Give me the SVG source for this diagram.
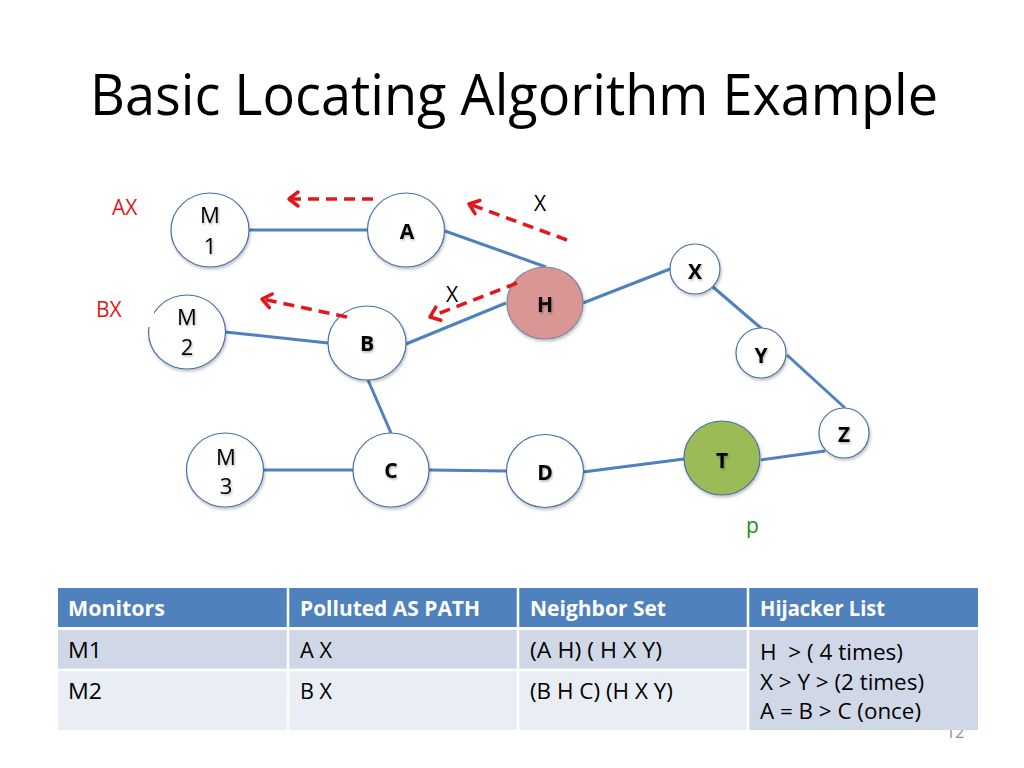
<svg xmlns="http://www.w3.org/2000/svg" width="1024" height="768" viewBox="0 0 1024 768">
<defs>
<style>
.t{font-family:"Open Sans","Liberation Sans",sans-serif;}
.node{fill:#ffffff;stroke:#4a6fa5;stroke-width:1.2;}
.lbl{font-family:"Open Sans","Liberation Sans",sans-serif;font-weight:bold;font-size:21px;fill:#000;text-anchor:middle;}
.mlbl{font-family:"Open Sans","Liberation Sans",sans-serif;font-size:22px;fill:#000;text-anchor:middle;}
.edge{stroke:#4f81bd;stroke-width:3;fill:none;}
.red{stroke:#e3171b;stroke-width:3.5;fill:none;stroke-dasharray:11 7;}
.redtxt{font-family:"Open Sans","Liberation Sans",sans-serif;font-size:21px;fill:#e3171b;}
.blk{font-family:"Open Sans","Liberation Sans",sans-serif;font-size:21px;fill:#000;}
.th{font-family:"Open Sans","Liberation Sans",sans-serif;font-size:21px;font-weight:bold;fill:#fff;}
.td{font-family:"Open Sans","Liberation Sans",sans-serif;font-size:21px;fill:#000;}
</style>
<marker id="ah" markerWidth="20" markerHeight="20" refX="0" refY="0" viewBox="-12 -10 14 20" markerUnits="userSpaceOnUse" orient="auto">
<path d="M-9,-7 L0,0 L-9,7" fill="none" stroke="#e3171b" stroke-width="3.5" stroke-linecap="round" stroke-linejoin="round"/>
</marker>
<filter id="sh" x="-20%" y="-20%" width="140%" height="140%">
<feDropShadow dx="1" dy="2" stdDeviation="1.5" flood-color="#000" flood-opacity="0.25"/>
</filter>
<filter id="ts" x="-20%" y="-20%" width="140%" height="140%">
<feDropShadow dx="1" dy="1.5" stdDeviation="0.8" flood-color="#000" flood-opacity="0.3"/>
</filter>
</defs>
<rect width="1024" height="768" fill="#ffffff"/>

<text class="t" x="90" y="115" font-size="56" fill="#000" textLength="848" lengthAdjust="spacingAndGlyphs">Basic Locating Algorithm Example</text>

<g id="connectors">
<line class="edge" x1="249" y1="230" x2="368" y2="230"/>
<line class="edge" x1="445" y1="231" x2="546" y2="267"/>
<line class="edge" x1="583" y1="303" x2="670" y2="269"/>
<line class="edge" x1="713" y1="287" x2="762" y2="329"/>
<line class="edge" x1="787" y1="355" x2="845" y2="408"/>
<line class="edge" x1="825" y1="451" x2="761" y2="460"/>
<line class="edge" x1="684" y1="459" x2="583" y2="472"/>
<line class="edge" x1="506" y1="471" x2="429" y2="470"/>
<line class="edge" x1="353" y1="470" x2="263" y2="470"/>
<line class="edge" x1="368" y1="380" x2="391" y2="433"/>
<line class="edge" x1="225" y1="332" x2="328" y2="343"/>
<line class="edge" x1="406" y1="344" x2="506" y2="303"/>
</g>

<g id="node-M1"><ellipse class="node" filter="url(#sh)" cx="210" cy="230" rx="39" ry="37"/><text class="mlbl" filter="url(#ts)" x="210" y="223">M</text><text class="mlbl" filter="url(#ts)" x="210" y="254">1</text></g>
<g id="node-A"><ellipse class="node" filter="url(#sh)" cx="406" cy="230" rx="38.5" ry="37"/><text class="lbl" filter="url(#ts)" x="407" y="239">A</text></g>
<g id="node-M2"><ellipse class="node" filter="url(#sh)" cx="187" cy="332" rx="38.5" ry="37"/><text class="mlbl" filter="url(#ts)" x="187" y="325">M</text><text class="mlbl" filter="url(#ts)" x="187" y="355">2</text></g>
<g id="node-B"><ellipse class="node" filter="url(#sh)" cx="367" cy="343" rx="39" ry="37"/><text class="lbl" filter="url(#ts)" x="367" y="351">B</text></g>
<g id="node-H"><ellipse class="node" filter="url(#sh)" cx="545" cy="303" rx="38" ry="36" style="fill:#d99694;stroke:#7d86a6"/><text class="lbl" filter="url(#ts)" x="545" y="312">H</text></g>
<g id="node-X"><circle class="node" filter="url(#sh)" cx="695" cy="269" r="25"/><text class="lbl" filter="url(#ts)" x="695" y="279">X</text></g>
<g id="node-Y"><circle class="node" filter="url(#sh)" cx="761" cy="353" r="25"/><text class="lbl" filter="url(#ts)" x="761" y="363">Y</text></g>
<g id="node-Z"><circle class="node" filter="url(#sh)" cx="844" cy="433" r="25"/><text class="lbl" filter="url(#ts)" x="844" y="442">Z</text></g>
<g id="node-M3"><ellipse class="node" filter="url(#sh)" cx="225" cy="470" rx="38.5" ry="37"/><text class="mlbl" filter="url(#ts)" x="226" y="465">M</text><text class="mlbl" filter="url(#ts)" x="226" y="494">3</text></g>
<g id="node-C"><ellipse class="node" filter="url(#sh)" cx="391" cy="470" rx="38" ry="37"/><text class="lbl" filter="url(#ts)" x="391" y="478">C</text></g>
<g id="node-D"><ellipse class="node" filter="url(#sh)" cx="545" cy="471" rx="38.5" ry="36.5"/><text class="lbl" filter="url(#ts)" x="545" y="480">D</text></g>
<g id="node-T"><ellipse class="node" filter="url(#sh)" cx="722" cy="458" rx="38" ry="37" style="fill:#9bbb59;stroke:#4a6fa5"/><text class="lbl" filter="url(#ts)" x="722" y="468">T</text></g>

<g id="labels">
<rect x="130" y="296" width="24" height="31" fill="#ffffff"/>
<text class="redtxt" x="112" y="215">AX</text>
<text class="redtxt" x="96" y="317">BX</text>
<text class="blk" x="534" y="211">X</text>
<text class="blk" x="446" y="302">X</text>
<text x="746" y="533" font-family="Open Sans, Liberation Sans, sans-serif" font-size="21" fill="#1e8c1e">p</text>
</g>

<g id="arrows">
<line class="red" x1="373" y1="199" x2="289" y2="199" marker-end="url(#ah)"/>
<line class="red" x1="567" y1="240" x2="469" y2="204" marker-end="url(#ah)"/>
<line class="red" x1="347" y1="317" x2="262" y2="299" marker-end="url(#ah)"/>
<line class="red" x1="517" y1="283" x2="430" y2="317" marker-end="url(#ah)"/>
</g>

<text x="946" y="738" font-family="Open Sans, Liberation Sans, sans-serif" font-size="16" fill="#8c8c8c">12</text>

<g id="table">
<rect x="58" y="588" width="920" height="39" fill="#4f81bd"/>
<rect x="58" y="630" width="920" height="39" fill="#d0d8e8"/>
<rect x="58" y="671" width="920" height="59" fill="#e9edf4"/>
<rect x="749" y="630" width="229" height="100" fill="#d0d8e8"/>
<g stroke="#ffffff" stroke-width="2.5">
<line x1="58" y1="628.5" x2="978" y2="628.5"/>
<line x1="58" y1="670" x2="749" y2="670"/>
<line x1="288" y1="588" x2="288" y2="730"/>
<line x1="518" y1="588" x2="518" y2="730"/>
<line x1="748" y1="588" x2="748" y2="730"/>
</g>
<text class="th" x="68" y="616" textLength="97" lengthAdjust="spacingAndGlyphs">Monitors</text>
<text class="th" x="300" y="616" textLength="180" lengthAdjust="spacingAndGlyphs">Polluted AS PATH</text>
<text class="th" x="530" y="616" textLength="136" lengthAdjust="spacingAndGlyphs">Neighbor Set</text>
<text class="th" x="760" y="616" textLength="125" lengthAdjust="spacingAndGlyphs">Hijacker List</text>
<text class="td" x="68" y="658" textLength="34" lengthAdjust="spacingAndGlyphs">M1</text>
<text class="td" x="300" y="658" textLength="32" lengthAdjust="spacingAndGlyphs">A X</text>
<text class="td" x="530" y="658" textLength="132" lengthAdjust="spacingAndGlyphs">(A H) ( H X Y)</text>
<text class="td" x="68" y="699" textLength="34" lengthAdjust="spacingAndGlyphs">M2</text>
<text class="td" x="300" y="699" textLength="32" lengthAdjust="spacingAndGlyphs">B X</text>
<text class="td" x="530" y="699" textLength="143" lengthAdjust="spacingAndGlyphs">(B H C) (H X Y)</text>
<text class="td" x="760" y="660" textLength="143" lengthAdjust="spacingAndGlyphs" xml:space="preserve">H  &gt; ( 4 times)</text>
<text class="td" x="760" y="690" textLength="164" lengthAdjust="spacingAndGlyphs">X &gt; Y &gt; (2 times)</text>
<text class="td" x="760" y="719" textLength="161" lengthAdjust="spacingAndGlyphs">A = B &gt; C (once)</text>
</g>
</svg>
